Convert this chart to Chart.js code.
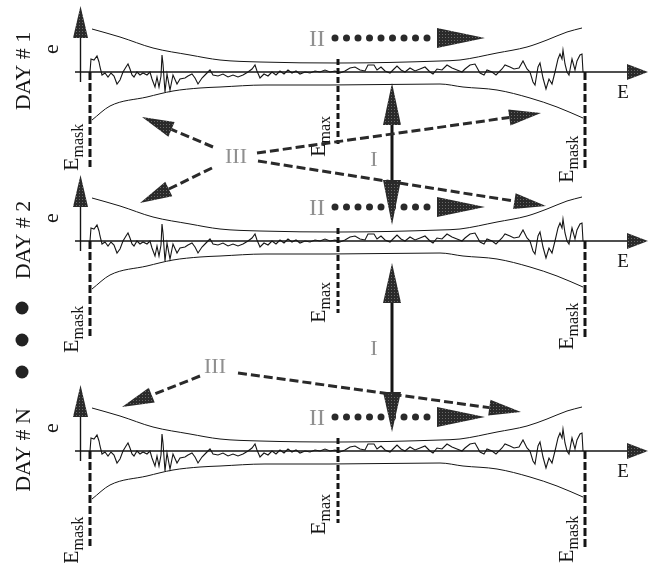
<!DOCTYPE html>
<html>
<head>
<meta charset="utf-8">
<script src="https://cdn.jsdelivr.net/npm/chart.js@4"></script>
<style>
  html, body { margin: 0; padding: 0; background: #fff; }
  canvas { display: block; }
</style>
</head>
<body>
<canvas id="days" width="649" height="563"></canvas>
<script>
// energy positions, measured from the lower mask edge
const E_MASK_LO = 0;
const E_MAX = 248;
const E_MASK_HI = 495;

// error trace e(E) of one day
const signalE = [0, 1, 4, 7, 9, 10, 12, 15, 18, 21, 24, 27, 30, 33, 36, 38, 40, 42, 44, 47,
  50, 53, 57, 60, 62, 65, 67, 69, 71, 72, 73, 75, 77, 80, 83, 87, 90, 95, 98, 102,
  105, 108, 112, 115, 120, 123, 128, 133, 138, 143, 148, 153, 158, 162, 165, 167, 170, 174, 178, 182,
  186, 190, 194, 198, 202, 206, 210, 215, 220, 225, 230, 235, 240, 245, 250, 255, 260, 265, 270, 275,
  278, 284, 287, 291, 295, 300, 304, 307, 311, 315, 320, 325, 330, 335, 340, 343, 347, 352, 357, 362,
  367, 372, 375, 380, 385, 390, 394, 397, 402, 406, 412, 415, 420, 424, 429, 433, 437, 440, 443, 445,
  448, 450, 453, 456, 459, 462, 465, 468, 470, 472, 473, 475, 477, 479, 482, 485, 487, 490, 492, 493];
const signalVal = [0, 13, 12, 16, 10, 5, -3, -1, -5, -1, -4, -12, -8, 0, 5, 8, 3, -3, -5, 0,
  -3, -1, -3, 0, -7, -15, -5, -15, -4, 17, 8, -20, -2, -18, -3, -12, -7, -6, -4, -2,
  -6, -12, -6, -3, 2, -3, -4, -2, -5, -3, -5, -3, 0, 3, 7, 1, -6, -2, -4, 0,
  -3, 1, -2, 2, -1, 1, -2, 0, -1, 1, 0, 2, 0, 1, -1, 1, 4, 5, 2, 1,
  7, 7, 2, 5, 1, -1, 3, 6, 2, 0, 4, 1, 3, 5, 0, -2, 3, 2, 7, 4,
  2, 0, 3, 7, 8, -1, -3, 2, 0, -3, 3, 7, 5, 3, 4, 11, 3, 0, -10, -13,
  5, 9, -6, -17, -7, -12, 0, 13, 18, 13, 22, 8, 0, -3, 13, 2, 11, 17, 18, 0];

// tolerance envelope above and below the axis
const envUpperE = [2, 30, 63, 100, 130, 170, 250, 350, 370, 407, 437, 457, 477, 492];
const envUpper = [43, 35, 24, 17, 12, 10, 9, 11, 12, 19, 25, 32, 40, 44];
const envLowerE = [2, 20, 57, 83, 110, 130, 175, 240, 350, 373, 407, 440, 467, 493];
const envLower = [48, 34, 25, 19, 16, 15, 13, 13, 12, 15, 18, 26, 35, 46];

// panels
const dayLabels = ['DAY # 1', 'DAY # 2', 'DAY # N'];
const dayBaseline = [72, 241, 451];
const maskLoLabelY = [171, 353, 564];
const maxLabelY = [157, 323, 535];
const maskHiLabelY = [183, 350, 563];

const INK = '#151515';
const SERIF = '"Liberation Serif", "DejaVu Serif", serif';

function pts(xs, ys, base, sign) {
  return xs.map((x, i) => ({ x: x, y: base - sign * ys[i] }));
}

const datasets = [];
dayBaseline.forEach(b => {
  datasets.push({ data: pts(envUpperE, envUpper, b, 1), borderColor: INK, borderWidth: 1, cubicInterpolationMode: 'monotone' });
  datasets.push({ data: pts(envLowerE, envLower, b, -1), borderColor: INK, borderWidth: 1, cubicInterpolationMode: 'monotone' });
  datasets.push({ data: pts(signalE, signalVal, b, 1), borderColor: INK, borderWidth: 1.1 });
  // E axis and e axis
  datasets.push({ data: [{ x: -15, y: b }, { x: 537, y: b }], borderColor: INK, borderWidth: 1.4 });
  datasets.push({ data: [{ x: -9.5, y: b + 10 }, { x: -9.5, y: b - 36 }], borderColor: INK, borderWidth: 1.4 });
  // mask edges and maximum
  datasets.push({ data: [{ x: E_MASK_LO, y: b }, { x: E_MASK_LO, y: b + 95 }], borderColor: INK, borderWidth: 3, borderDash: [8, 3] });
  datasets.push({ data: [{ x: E_MAX, y: b - 13 }, { x: E_MAX, y: b + 72 }], borderColor: INK, borderWidth: 3, borderDash: [6, 3] });
  datasets.push({ data: [{ x: E_MASK_HI, y: b }, { x: E_MASK_HI, y: b + 97 }], borderColor: INK, borderWidth: 3, borderDash: [8, 3] });
});
datasets.forEach(d => Object.assign(d, { showLine: true, pointRadius: 0, fill: false, clip: false }));

// stippled fill for the arrow heads
function stipple(ctx) {
  const c = document.createElement('canvas');
  c.width = 3; c.height = 3;
  const g = c.getContext('2d');
  g.fillStyle = '#2a2a2a'; g.fillRect(0, 0, 3, 3);
  g.fillStyle = '#6a6a6a'; g.fillRect(1, 1, 1, 1);
  return ctx.createPattern(c, 'repeat');
}

function head(ctx, bx, by, tx, ty, half, fill) {
  const dx = tx - bx, dy = ty - by, len = Math.hypot(dx, dy);
  const nx = -dy / len, ny = dx / len;
  ctx.beginPath();
  ctx.moveTo(tx, ty);
  ctx.lineTo(bx + nx * half, by + ny * half);
  ctx.lineTo(bx - nx * half, by - ny * half);
  ctx.closePath();
  ctx.fillStyle = fill;
  ctx.fill();
}

function vtext(ctx, str, x, y, font, align) {
  ctx.save();
  ctx.translate(x, y);
  ctx.rotate(-Math.PI / 2);
  ctx.font = font;
  ctx.textAlign = align;
  ctx.fillText(str, 0, 0);
  ctx.restore();
}

function subLabel(ctx, sub, x, y) {
  ctx.save();
  ctx.translate(x, y);
  ctx.rotate(-Math.PI / 2);
  ctx.textAlign = 'left';
  ctx.font = '22px ' + SERIF;
  ctx.fillText('E', 0, 0);
  const w = ctx.measureText('E').width;
  ctx.font = '16px ' + SERIF;
  ctx.fillText(sub, w, 5);
  ctx.restore();
}

const annotations = {
  id: 'annotations',
  afterDatasetsDraw(chart) {
    const ctx = chart.ctx;
    const sx = v => chart.scales.x.getPixelForValue(v);
    const sy = v => chart.scales.y.getPixelForValue(v);
    const fill = stipple(ctx);
    ctx.save();
    ctx.fillStyle = INK;
    ctx.textBaseline = 'alphabetic';

    dayBaseline.forEach((b, i) => {
      // axis arrow heads
      head(ctx, sx(-9.5), sy(b - 34), sx(-9.5), sy(b - 66), 7.5, fill);
      head(ctx, sx(537), sy(b), sx(558), sy(b), 8, fill);

      ctx.fillStyle = INK;
      vtext(ctx, dayLabels[i], sx(-60), sy(b - 1), '22px ' + SERIF, 'center');
      vtext(ctx, 'e', sx(-32), sy(b - 23), '22px ' + SERIF, 'center');
      ctx.font = '19px ' + SERIF;
      ctx.textAlign = 'center';
      ctx.fillText('E', sx(533), sy(b + 26));
      subLabel(ctx, 'mask', sx(-12), sy(maskLoLabelY[i]));
      subLabel(ctx, 'max', sx(235), sy(maxLabelY[i]));
      subLabel(ctx, 'mask', sx(483), sy(maskHiLabelY[i]));

      // II: dotted arrow along E
      const yII = sy(b - 34);
      ctx.fillStyle = '#8f8f8f';
      ctx.font = '24px ' + SERIF;
      ctx.textAlign = 'center';
      ctx.fillText('II', sx(227), yII + 8);
      ctx.fillStyle = '#2a2a2a';
      for (let e = 245; e <= 338; e += 11.5) {
        ctx.beginPath();
        ctx.arc(sx(e), yII, 3.5, 0, Math.PI * 2);
        ctx.fill();
      }
      head(ctx, sx(347), yII, sx(395), yII, 10, fill);
    });

    // I: day to day, double headed
    [[83, 125, 180, 225, 158], [263, 303, 392, 432, 347]].forEach(a => {
      const x = sx(302);
      ctx.strokeStyle = INK;
      ctx.lineWidth = 3;
      ctx.beginPath();
      ctx.moveTo(x, sy(a[1]));
      ctx.lineTo(x, sy(a[2]));
      ctx.stroke();
      head(ctx, x, sy(a[1]), x, sy(a[0]), 9, fill);
      head(ctx, x, sy(a[2]), x, sy(a[3]), 9, fill);
      ctx.fillStyle = '#8f8f8f';
      ctx.font = '22px ' + SERIF;
      ctx.textAlign = 'center';
      ctx.fillText('I', sx(284), sy(a[4]) + 8);
    });

    // III: dashed arrows between days
    ctx.fillStyle = '#8f8f8f';
    ctx.font = '22px ' + SERIF;
    ctx.textAlign = 'center';
    ctx.fillText('III', sx(146), sy(155) + 8);
    ctx.fillText('III', sx(125), sy(365) + 8);
    [[123, 147, 52, 117], [122, 168, 50, 203], [167, 153, 451, 113],
     [168, 161, 456, 206], [110, 376, 32, 407], [148, 373, 431, 412]].forEach(a => {
      const x0 = sx(a[0]), y0 = sy(a[1]), x1 = sx(a[2]), y1 = sy(a[3]);
      const len = Math.hypot(x1 - x0, y1 - y0);
      const bx = x1 - (x1 - x0) * 32 / len, by = y1 - (y1 - y0) * 32 / len;
      ctx.strokeStyle = '#2a2a2a';
      ctx.lineWidth = 3;
      ctx.setLineDash([9, 4]);
      ctx.beginPath();
      ctx.moveTo(x0, y0);
      ctx.lineTo(bx, by);
      ctx.stroke();
      ctx.setLineDash([]);
      head(ctx, bx, by, x1, y1, 8, fill);
    });

    // more days
    ctx.fillStyle = '#222';
    [308, 340, 372].forEach(y => {
      ctx.beginPath();
      ctx.arc(sx(-68), sy(y), 6.5, 0, Math.PI * 2);
      ctx.fill();
    });
    ctx.restore();
  }
};

new Chart(document.getElementById('days'), {
  type: 'scatter',
  data: { datasets: datasets },
  options: {
    responsive: false,
    animation: false,
    layout: { padding: 0 },
    plugins: { legend: { display: false }, tooltip: { enabled: false } },
    scales: {
      x: { type: 'linear', min: -90, max: 559, display: false },
      y: { type: 'linear', min: 0, max: 563, reverse: true, display: false }
    }
  },
  plugins: [annotations]
});
</script>
</body>
</html>
